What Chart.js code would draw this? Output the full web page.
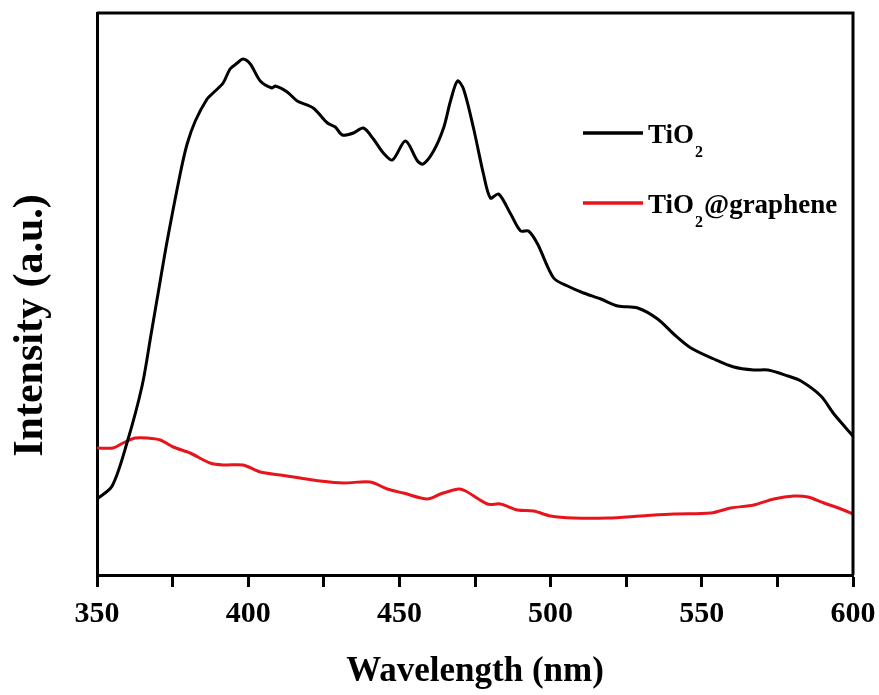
<!DOCTYPE html>
<html>
<head>
<meta charset="utf-8">
<script src="https://cdn.jsdelivr.net/npm/chart.js@4/dist/chart.umd.min.js"></script>
<style>
  html, body { margin: 0; padding: 0; background: #fff; }
  canvas { display: block; }
</style>
</head>
<body>
<canvas id="c" width="879" height="695"></canvas>
<script>
// ---- Data (arbitrary intensity units) ----
const seriesNames = ["TiO₂", "TiO₂@graphene"];
const seriesColors = ["#000000", "#e8141c"];

const tio2Wavelength = [350, 355, 359.9, 364.9, 367.9, 370.9, 373.2, 377.5, 379.8, 382.5, 386.4, 388.4, 391.7, 394.0, 396.4, 398.3, 400.7, 404.0, 407.9, 408.9, 412.9, 416.2, 421.5, 426.2, 428.8, 431.1, 434.8, 438.1, 441.4, 444.7, 447.7, 452.0, 456.0, 457.9, 461.3, 464.6, 466.9, 469.2, 471.2, 474.5, 477.8, 480.1, 482.8, 486.8, 490.1, 492.7, 495.7, 501.0, 505.6, 510.9, 516.6, 522.2, 528.8, 535.4, 540.7, 546.4, 554.0, 560.6, 567.2, 571.9, 578.5, 582.8, 589.4, 593.7, 600];
const tio2Intensity = [76, 89, 132, 189, 241, 294, 334, 401, 431, 454, 476, 482, 492, 506, 512, 516, 511, 494, 487, 489, 483, 474, 467, 452, 448, 440, 442, 447, 436, 422, 415, 434, 414, 411, 424, 447, 474, 494, 486, 447, 401, 377, 381, 361, 344, 344, 331, 297, 289, 282, 276, 269, 267, 256, 241, 227, 216, 208, 205, 205, 199, 194, 179, 161, 139];

const grapheneWavelength = [350, 355.3, 358.6, 362.6, 366.6, 370.9, 375.2, 380.8, 387.4, 391.7, 398.3, 404.0, 410.6, 417.2, 423.8, 431.5, 440.4, 446.0, 451.3, 459.3, 463.6, 469.5, 471.9, 479.1, 483.4, 489.1, 494.4, 500.0, 507.6, 518.9, 529.8, 540.7, 553.0, 559.6, 567.2, 573.8, 580.5, 585.1, 590.4, 596.0, 600];
const grapheneIntensity = [127, 127, 132, 137, 137, 135, 128, 122, 112, 110, 110, 103, 100, 97, 94, 92, 93, 86, 82, 76, 81, 86, 84, 71, 71, 65, 64, 59, 57, 57, 59, 61, 62, 67, 70, 76, 79, 78, 72, 66, 61];

const xTickValues = [350, 400, 450, 500, 550, 600];
const xTitle = "Wavelength (nm)";
const yTitle = "Intensity (a.u.)";

// ---- Helpers ----
function toPoints(xs, ys) { return xs.map((x, i) => ({ x: x, y: ys[i] })); }

const SERIF = "'Liberation Serif', 'Times New Roman', serif";

// Frame (top + right edges) plugin
const framePlugin = {
  id: 'frame',
  afterDraw(chart) {
    const { ctx, chartArea: a } = chart;
    ctx.save();
    ctx.strokeStyle = '#000';
    ctx.lineWidth = 3;
    ctx.beginPath();
    ctx.moveTo(a.left, a.top);
    ctx.lineTo(a.right, a.top);
    ctx.lineTo(a.right, a.bottom);
    ctx.stroke();
    ctx.restore();
  }
};

// Legend drawn inside plot area, vertical stack, with subscript "2"
const insideLegend = {
  id: 'insideLegend',
  afterDraw(chart, args, opts) {
    const { ctx } = chart;
    ctx.save();
    chart.data.datasets.forEach((ds, i) => {
      const y = opts.y0 + i * opts.dy;
      ctx.strokeStyle = ds.borderColor;
      ctx.lineWidth = 3.5;
      ctx.beginPath();
      ctx.moveTo(opts.x0, y);
      ctx.lineTo(opts.x0 + opts.lineLen, y);
      ctx.stroke();
      let x = opts.x0 + opts.lineLen + opts.gap;
      ctx.fillStyle = '#000';
      ctx.textBaseline = 'alphabetic';
      ctx.textAlign = 'left';
      const parts = ds.label.split('₂');
      parts.forEach((p, k) => {
        if (p) {
          ctx.font = 'bold ' + opts.size + 'px ' + SERIF;
          ctx.fillText(p, x, y + opts.base);
          x += ctx.measureText(p).width;
        }
        if (k < parts.length - 1) {
          ctx.font = 'bold ' + opts.subSize + 'px ' + SERIF;
          ctx.fillText('2', x + 1, y + opts.subBase);
          x += ctx.measureText('2').width + 2;
        }
      });
    });
    ctx.restore();
  }
};

new Chart(document.getElementById('c'), {
  type: 'line',
  data: {
    datasets: [
      { label: seriesNames[0], data: toPoints(tio2Wavelength, tio2Intensity), borderColor: seriesColors[0], borderWidth: 3, pointRadius: 0, tension: 0.3, fill: false },
      { label: seriesNames[1], data: toPoints(grapheneWavelength, grapheneIntensity), borderColor: seriesColors[1], borderWidth: 3, pointRadius: 0, tension: 0.3, fill: false }
    ]
  },
  options: {
    responsive: false,
    animation: false,
    devicePixelRatio: 1,
    layout: { padding: { top: 13, right: 26, left: 0, bottom: 0 } },
    plugins: {
      legend: { display: false },
      tooltip: { enabled: false },
      insideLegend: { x0: 583, y0: 133, dy: 70, lineLen: 60, gap: 5, size: 27, subSize: 16, base: 10, subBase: 24 }
    },
    scales: {
      x: {
        type: 'linear',
        min: 350, max: 600,
        afterFit(scale) { scale.height = 120; scale.paddingLeft = 0; scale.paddingRight = 0; },
        afterBuildTicks(scale) {
          const t = [];
          for (let v = 350; v <= 600; v += 25) t.push({ value: v, major: xTickValues.includes(v) });
          scale.ticks = t;
        },
        ticks: {
          autoSkip: false,
          maxRotation: 0,
          padding: 9,
          color: '#000',
          font: { family: SERIF, size: 30, weight: 'bold' },
          callback: (v) => xTickValues.includes(v) ? String(v) : ''
        },
        grid: {
          display: true,
          drawOnChartArea: false,
          drawTicks: true,
          tickLength: 12,
          tickWidth: 3,
          tickColor: '#000'
        },
        border: { display: true, color: '#000', width: 3 },
        title: {
          display: true,
          text: xTitle,
          color: '#000',
          font: { family: SERIF, size: 35, weight: 'bold' },
          padding: { top: 0, bottom: 2 }
        }
      },
      y: {
        type: 'linear',
        min: 0, max: 562,
        afterFit(scale) { scale.width = 97; },
        ticks: { display: false },
        grid: { display: false, drawTicks: false },
        border: { display: true, color: '#000', width: 3 },
        title: {
          display: true,
          text: yTitle + '      ',
          color: '#000',
          font: { family: SERIF, size: 42, weight: 'bold' },
          padding: { top: 6, bottom: 0 }
        }
      }
    }
  },
  plugins: [framePlugin, insideLegend]
});
</script>
</body>
</html>
